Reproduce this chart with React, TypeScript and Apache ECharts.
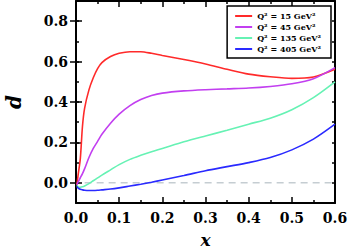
import React, { useEffect, useRef } from "react";
import * as echarts from "echarts";

const xs = [0.002, 0.005, 0.01, 0.015, 0.02, 0.03, 0.04, 0.05, 0.06, 0.08, 0.1, 0.125, 0.15, 0.175, 0.2, 0.25, 0.3, 0.35, 0.4, 0.45, 0.5, 0.55, 0.6];
const q15 = [-0.01, 0.04, 0.12, 0.28, 0.37, 0.46, 0.52, 0.565, 0.595, 0.625, 0.641, 0.649, 0.649, 0.641, 0.63, 0.61, 0.588, 0.562, 0.538, 0.525, 0.517, 0.524, 0.562];
const q45 = [-0.01, 0.005, 0.025, 0.045, 0.07, 0.125, 0.17, 0.205, 0.24, 0.295, 0.34, 0.382, 0.412, 0.432, 0.444, 0.455, 0.461, 0.465, 0.469, 0.477, 0.49, 0.515, 0.57];
const q135 = [-0.012, -0.02, -0.022, -0.02, -0.016, -0.004, 0.01, 0.024, 0.038, 0.064, 0.09, 0.116, 0.136, 0.154, 0.17, 0.203, 0.232, 0.26, 0.29, 0.32, 0.362, 0.422, 0.5];
const q405 = [-0.018, -0.026, -0.032, -0.035, -0.037, -0.038, -0.038, -0.037, -0.035, -0.031, -0.025, -0.016, -0.007, 0.003, 0.014, 0.036, 0.06, 0.08, 0.1, 0.125, 0.163, 0.216, 0.29];
const seriesNames = ["Q² = 15 GeV²", "Q² = 45 GeV²", "Q² = 135 GeV²", "Q² = 405 GeV²"];
const seriesColors = ["#ff2a2a", "#c23ff0", "#66f2b4", "#2a2aff"];
const seriesValues = [q15, q45, q135, q405];
const yMajor = [0, 0.2, 0.4, 0.6, 0.8];

const FONT = "DejaVu Serif";

export default function App() {
  const ref = useRef<HTMLDivElement>(null);
  useEffect(() => {
    document.body.style.margin = "0";
    const chart = echarts.init(ref.current!, null, { renderer: "svg" });
    const lineBlack = { color: "#000", width: 1.5 };
    const baseX = {
      type: "value",
      min: 0,
      max: 0.6,
      interval: 0.1,
      splitLine: { show: false },
      axisLine: { show: true, onZero: false, lineStyle: { color: "#000", width: 2 } },
      axisTick: { show: true, inside: true, length: 6, lineStyle: lineBlack },
      minorTick: { show: true, splitNumber: 2, length: 3, lineStyle: lineBlack },
    };
    const baseY = {
      type: "value",
      min: -0.1,
      max: 0.9,
      interval: 0.1,
      splitLine: { show: false },
    };
    const yMinor = (pos: string, labels: boolean) => ({
      ...baseY,
      position: pos,
      axisLine: { show: true, onZero: false, lineStyle: { color: "#000", width: 2 } },
      axisTick: { show: true, inside: true, length: 3, lineStyle: lineBlack },
      axisLabel: labels
        ? {
            show: true,
            margin: 8,
            fontFamily: FONT,
            fontWeight: "bold",
            fontSize: 14,
            color: "#000",
            formatter: (v: number) => (Math.round(v * 10) % 2 === 0 ? v.toFixed(1) : ""),
          }
        : { show: false },
      name: labels ? "d" : "",
      nameLocation: "middle",
      nameGap: 52,
      nameMoveOverlap: false,
      nameRotate: 90,
      nameTextStyle: { fontFamily: FONT, fontStyle: "italic", fontWeight: "bold", fontSize: 20, color: "#000" },
    });
    const yMaj = (pos: string) => ({
      ...baseY,
      position: pos,
      axisLine: { show: false },
      axisTick: { show: true, inside: true, length: 6, lineStyle: lineBlack, customValues: yMajor },
      axisLabel: { show: false },
    });
    const series: any[] = seriesValues.map((vals, i) => ({
      name: seriesNames[i],
      type: "line",
      data: xs.map((x, j) => [x, vals[j]]),
      smooth: 0.3,
      symbol: "none",
      lineStyle: { color: seriesColors[i], width: 1.6 },
      itemStyle: { color: seriesColors[i] },
      z: 3,
    }));
    series.unshift({
      name: "zero",
      type: "line",
      data: [[0.02, 0], [0.6, 0]],
      symbol: "none",
      silent: true,
      lineStyle: { color: "#c5cdd2", width: 1.5, type: [7, 5] },
      z: 1,
    });
    chart.setOption({
      animation: false,
      grid: { left: 76, right: 14, top: 1, bottom: 45, outerBoundsMode: "none", containLabel: false },
      legend: {
        data: seriesNames,
        orient: "vertical",
        right: 18,
        top: 6,
        padding: [6, 10, 5, 8],
        itemGap: 3,
        itemWidth: 17,
        itemHeight: 2,
        icon: "rect",
        borderColor: "#000",
        borderWidth: 1.5,
        backgroundColor: "#fff",
        textStyle: { fontFamily: FONT, fontWeight: "bold", fontSize: 8, color: "#000", lineHeight: 8, padding: [0, 0, 0, 0] },
      },
      xAxis: [
        {
          ...baseX,
          position: "bottom",
          axisLabel: {
            show: true,
            margin: 8,
            fontFamily: FONT,
            fontWeight: "bold",
            fontSize: 14,
            color: "#000",
            formatter: (v: number) => v.toFixed(1),
          },
          name: "x",
          nameLocation: "middle",
          nameGap: 28,
          nameMoveOverlap: false,
          nameTextStyle: { fontFamily: FONT, fontStyle: "italic", fontWeight: "bold", fontSize: 17, color: "#000", verticalAlign: "top" },
        },
        { ...baseX, position: "top", axisLabel: { show: false } },
      ],
      yAxis: [yMinor("left", true), yMaj("left"), yMinor("right", false), yMaj("right")],
      series,
    });
    return () => chart.dispose();
  }, []);
  return <div ref={ref} style={{ width: 349, height: 248 }} />;
}
